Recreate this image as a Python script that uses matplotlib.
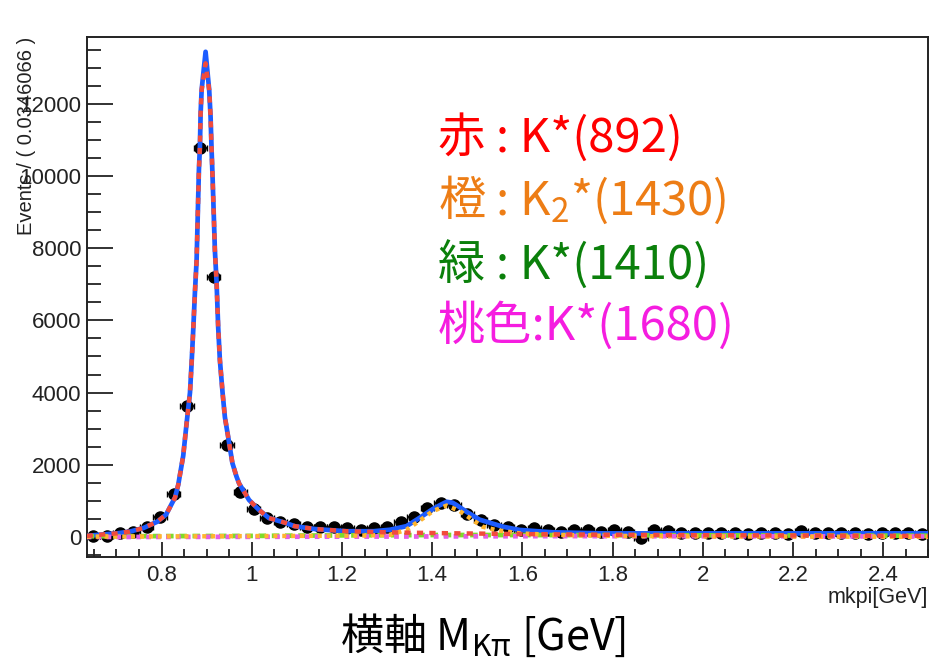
import numpy as np
import matplotlib.pyplot as plt
from matplotlib.ticker import MultipleLocator

# ---- data ----
x_lo, x_hi, n_bins = 0.634, 2.5, 63
counts = [30, 15, 110, 150, 280, 560, 1190, 3630, 10780, 7200,
          2550, 1250, 780, 525, 420, 370, 290, 280, 280, 240,
          200, 240, 280, 420, 560, 790, 930, 880, 640, 470,
          330, 285, 200, 240, 200, 150, 200, 200, 150, 200,
          130, -20, 200, 170, 120, 110, 110, 110, 110, 80,
          110, 110, 95, 160, 110, 110, 110, 110, 95, 110,
          110, 110, 80]

# total fit (blue)
tot_x = [0.634, 0.66, 0.70, 0.73, 0.76, 0.79, 0.81, 0.83, 0.837, 0.848,
         0.8555, 0.863, 0.8666, 0.8702, 0.8739, 0.8777, 0.8828, 0.885, 0.8866, 0.8888,
         0.8976, 0.9056, 0.9087, 0.9109, 0.9131, 0.9182, 0.922, 0.9255, 0.9293, 0.9353,
         0.9404, 0.9477, 0.957, 0.966, 0.972, 0.994, 1.016, 1.038, 1.075, 1.095,
         1.14, 1.21, 1.27, 1.306, 1.343, 1.372, 1.402, 1.42, 1.432, 1.445,
         1.454, 1.476, 1.505, 1.52, 1.557, 1.594, 1.667, 1.78, 2.5]
tot_y = [30, 60, 100, 150, 250, 420, 620, 1100, 1450, 2250,
         3150, 4000, 4820, 5730, 6760, 7670, 10170, 10800, 11740, 12380,
         13440, 12380, 11630, 10720, 9970, 7950, 7040, 5820, 4900, 3990,
         3320, 2770, 2050, 1680, 1480, 1025, 750, 525, 390, 300,
         220, 160, 160, 200, 300, 530, 780, 900, 975, 950,
         885, 700, 480, 425, 285, 195, 130, 100, 100]

# K*(892) component (red)
k892_x = [0.634, 0.66, 0.70, 0.73, 0.76, 0.79, 0.81, 0.83, 0.837, 0.848,
          0.8555, 0.863, 0.8666, 0.8702, 0.8739, 0.8777, 0.8828, 0.885, 0.8866, 0.8888,
          0.8976, 0.9056, 0.9087, 0.9109, 0.9131, 0.9182, 0.922, 0.9255, 0.9293, 0.9353,
          0.9404, 0.9477, 0.957, 0.966, 0.972, 0.994, 1.016, 1.038, 1.075, 1.095,
          1.14, 1.21, 1.3, 1.4, 1.5, 1.6, 1.8, 2.0, 2.5]
k892_y = [30, 60, 100, 150, 250, 420, 620, 1100, 1450, 2250,
          3150, 4000, 4820, 5730, 6760, 7670, 10170, 10800, 11740, 12380,
          13120, 12380, 11630, 10720, 9970, 7950, 7040, 5820, 4900, 3990,
          3320, 2770, 2050, 1680, 1480, 1025, 750, 525, 390, 300,
          220, 160, 130, 110, 95, 80, 60, 50, 30]

# K2*(1430) component (orange)
k1430_x = [0.634, 0.9, 1.1, 1.25, 1.306, 1.343, 1.372, 1.402, 1.432, 1.461,
           1.49, 1.512, 1.542, 1.594, 1.667, 1.8, 2.0, 2.5]
k1430_y = [10, 20, 30, 40, 60, 200, 450, 720, 870, 720,
           470, 285, 190, 100, 60, 30, 15, 5]

# K*(1410) component (green)
k1410_x = [0.634, 1.0, 1.2, 1.4, 1.6, 2.0, 2.5]
k1410_y = [20, 30, 45, 55, 55, 45, 35]

# K*(1680) component (magenta)
k1680_x = [0.634, 1.0, 1.4, 1.7, 2.0, 2.5]
k1680_y = [0, 5, 15, 25, 20, 15]

labels = [("赤 : K*(892)", "#ff0000"),
          ("橙 : K$_{2}$*(1430)", "#ed7d15"),
          ("緑 : K*(1410)", "#0b800b"),
          ("桃色:K*(1680)", "#f51de0")]

plt.rcParams['font.family'] = ['Liberation Sans', 'DejaVu Sans']
plt.rcParams['mathtext.fontset'] = 'custom'
plt.rcParams['mathtext.rm'] = 'Noto Sans CJK JP'
plt.rcParams['mathtext.it'] = 'Noto Sans CJK JP'
plt.rcParams['mathtext.bf'] = 'Noto Sans CJK JP'
cjk = ['Noto Sans CJK JP', 'DejaVu Sans']

fig = plt.figure(figsize=(9.3, 6.68), dpi=100)
ax = fig.add_axes([86.7 / 930, 1 - 557 / 668, 841.6 / 930, 520.3 / 668])

width = (x_hi - x_lo) / n_bins
centers = x_lo + (np.arange(n_bins) + 0.5) * width
counts = np.array(counts)
ax.errorbar(centers, counts, xerr=width / 2, yerr=np.sqrt(np.abs(counts)),
            fmt='o', color='black', ms=8, elinewidth=1.2, capsize=2.2, zorder=2)

ax.plot(tot_x, tot_y, color='#1c5cff', lw=3.4, zorder=3)
ax.plot(k1410_x, k1410_y, color='#7ddc2a', lw=3.4, ls=(0, (1.6, 1.2)), zorder=4)
ax.plot(k1680_x, k1680_y, color='#e45de6', lw=3.4, ls=(0, (1.0, 1.1)), zorder=5)
ax.plot(k1430_x, k1430_y, color='#ffb52e', lw=3.2, ls=(0, (0.9, 1.1)), zorder=6)
ax.plot(k892_x, k892_y, color='#f24b3b', lw=3.2, ls=(0, (1.4, 1.4)), zorder=7)

ax.set_xlim(x_lo, x_hi)
ax.set_ylim(-554, 13858)
ax.xaxis.set_major_locator(MultipleLocator(0.2))
ax.xaxis.set_minor_locator(MultipleLocator(0.05))
ax.yaxis.set_major_locator(MultipleLocator(2000))
ax.yaxis.set_minor_locator(MultipleLocator(500))
ax.xaxis.set_major_formatter(plt.FuncFormatter(lambda v, p: f"{v:g}"))
ax.tick_params(which='both', direction='in', top=False, right=False,
               labelsize=16, width=1.3, colors='#222222')
ax.tick_params(axis='y', which='major', length=19, pad=4)
ax.tick_params(axis='y', which='minor', length=10)
ax.tick_params(axis='x', which='major', length=11, pad=6)
ax.tick_params(axis='x', which='minor', length=6)
for s in ax.spines.values():
    s.set_linewidth(1.4)
    s.set_color('#222222')

fig.text(27 / 930, 1 - 37 / 668, "Events / ( 0.0346066 )", rotation=90,
         ha='center', va='top', fontsize=14.5, color='#222222')
fig.text(928 / 930, 1 - 603 / 668, "mkpi[GeV]", ha='right', va='baseline',
         fontsize=15.5, color='#222222')

baselines = [151.7, 215, 280, 340]
for (txt, col), b in zip(labels, baselines):
    fig.text(438 / 930, 1 - b / 668, txt, color=col, fontsize=34,
             family=cjk, ha='left', va='baseline')

fig.text(483 / 930, 1 - 650 / 668, "横軸 M$_{\\mathrm{K}\\pi}$ [GeV]", fontsize=31,
         family=cjk, ha='center', va='baseline', color='black')

fig.savefig("out.png", dpi=100)
